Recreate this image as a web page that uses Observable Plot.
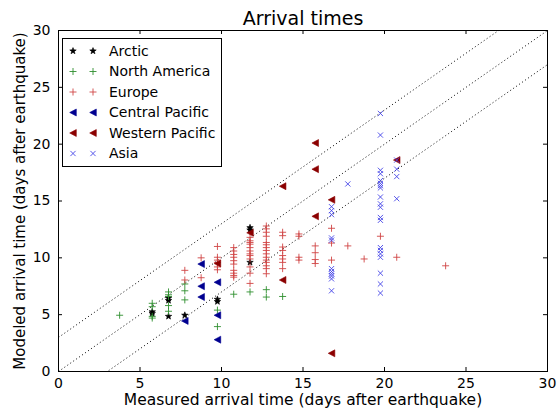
<!DOCTYPE html>
<html><head><meta charset="utf-8">
<script src="https://cdn.jsdelivr.net/npm/d3@7"></script>
<script src="https://cdn.jsdelivr.net/npm/@observablehq/plot@0.6"></script>
<style>body{margin:0;background:#fff;} #chart{width:560px;height:412px;}</style>
</head><body><div id="chart"></div>
<script>
const title = "Arrival times";
const xLabel = "Measured arrival time (days after earthquake)";
const yLabel = "Modeled arrival time (days after earthquake)";
const xTicks = [0, 5, 10, 15, 20, 25, 30];
const yTicks = [0, 5, 10, 15, 20, 25, 30];
const seriesNames = ["Arctic", "North America", "Europe", "Central Pacific", "Western Pacific", "Asia"];
const diagonalOffsets = [3, 0, -3];

const arcticX = [5.75, 5.75, 6.75, 6.75, 6.75, 7.75, 9.75, 9.75, 11.75, 11.75, 11.75];
const arcticY = [5.1, 5.25, 6.25, 6.45, 4.85, 4.95, 6.35, 6.15, 12.65, 12.45, 9.6];

const northAmericaX = [3.75, 5.75, 5.75, 5.75, 5.75, 6.75, 6.75, 6.75, 6.75, 6.75, 7.75, 7.75, 7.75, 9.75, 9.75, 10.75, 11.75, 12.75, 12.75, 13.75];
const northAmericaY = [4.95, 6.0, 5.7, 4.85, 4.7, 7.0, 6.75, 6.6, 5.8, 5.3, 7.7, 7.1, 6.3, 5.4, 3.95, 6.8, 7.0, 7.2, 6.55, 6.6];

const europeX = [7.75, 7.75,
  8.75, 8.75,
  9.75, 9.75, 9.75, 9.75, 9.75, 9.75,
  10.75, 10.75, 10.75, 10.75, 10.75, 10.75, 10.75, 10.75, 10.75, 10.75,
  11.75, 11.75, 11.75, 11.75, 11.75, 11.75, 11.75, 11.75, 11.75, 11.75, 11.75, 11.75,
  12.75, 12.75, 12.75, 12.75, 12.75, 12.75, 12.75, 12.75, 12.75, 12.75, 12.75, 12.75, 12.75, 12.75, 12.75,
  13.75, 13.75, 13.75, 13.75, 13.75, 13.75, 13.75, 13.75,
  14.75, 14.75, 14.75, 14.75,
  15.75, 15.75, 15.75, 15.75,
  16.75, 16.75, 16.75,
  17.75, 18.75, 19.75, 20.75, 23.75];
const europeY = [8.9, 8.05,
  10.0, 8.25,
  11.0, 10.05, 9.8, 9.6, 9.2, 8.95,
  10.9, 10.6, 10.3, 10.05, 9.75, 9.45, 8.9, 8.65, 8.45, 8.3,
  11.8, 11.5, 11.35, 11.2, 10.9, 10.6, 10.35, 10.2, 9.9, 9.2, 8.65, 7.75,
  12.8, 12.55, 12.25, 11.9, 11.35, 11.15, 10.9, 10.65, 10.35, 10.05, 9.8, 9.6, 9.3, 9.05, 8.6,
  12.25, 11.95, 10.95, 10.65, 10.2, 9.9, 9.6, 9.05,
  12.1, 11.9, 10.05, 9.8,
  11.05, 10.45, 9.85, 9.5,
  12.6, 11.3, 9.8,
  11.05, 9.9, 11.9, 10.05, 9.3];

const centralPacificX = [7.75, 8.75, 8.75, 8.75, 9.75, 9.75, 9.75];
const centralPacificY = [4.45, 9.45, 7.5, 6.55, 7.85, 4.95, 2.8];

const westernPacificX = [9.75, 11.75, 13.75, 13.75, 15.75, 15.75, 15.75, 16.75, 16.75, 20.75];
const westernPacificY = [9.5, 12.2, 16.3, 8.05, 20.1, 17.8, 13.65, 15.1, 1.6, 18.6];

const asiaX = [16.75, 16.75, 16.75, 16.75, 16.75, 16.75, 16.75, 16.75, 16.75, 16.75, 16.75,
  17.75,
  19.75, 19.75, 19.75, 19.75, 19.75, 19.75, 19.75, 19.75, 19.75, 19.75, 19.75, 19.75, 19.75, 19.75, 19.75, 19.75, 19.75, 19.75, 19.75, 19.75,
  20.75, 20.75, 20.75, 20.75];
const asiaY = [14.5, 14.15, 13.8, 11.75, 11.55, 9.05, 8.8, 8.6, 8.4, 8.15, 7.1,
  16.5,
  22.7, 20.8, 17.7, 17.4, 16.8, 16.55, 16.35, 16.15, 15.35, 14.75, 14.45, 13.55, 13.3, 10.9, 10.65, 10.35, 10.05, 8.65, 7.7, 6.9,
  18.6, 17.8, 17.15, 15.2];

// marker shapes (pixel geometry)
const symStar = {draw(ctx) {
  const R = 3.4, r = 1.4;
  for (let i = 0; i < 10; i++) {
    const a = -Math.PI / 2 + i * Math.PI / 5, rr = i % 2 ? r : R;
    const px = rr * Math.cos(a), py = rr * Math.sin(a);
    if (i) ctx.lineTo(px, py); else ctx.moveTo(px, py);
  }
  ctx.closePath();
}};
const symPlus = {draw(ctx) { const s = 3.5; ctx.moveTo(-s, 0); ctx.lineTo(s, 0); ctx.moveTo(0, -s); ctx.lineTo(0, s); }};
const symTimes = {draw(ctx) { const s = 2.6; ctx.moveTo(-s, -s); ctx.lineTo(s, s); ctx.moveTo(-s, s); ctx.lineTo(s, -s); }};
const symLeft = {draw(ctx) { ctx.moveTo(-3.3, 0); ctx.lineTo(3.3, -3.5); ctx.lineTo(3.3, 3.5); ctx.closePath(); }};

const series = [
  {name: seriesNames[0], xs: arcticX, ys: arcticY, symbol: symStar, color: "#000000", filled: true},
  {name: seriesNames[1], xs: northAmericaX, ys: northAmericaY, symbol: symPlus, color: "#2f8f2f", filled: false},
  {name: seriesNames[2], xs: europeX, ys: europeY, symbol: symPlus, color: "#d04545", filled: false},
  {name: seriesNames[3], xs: centralPacificX, ys: centralPacificY, symbol: symLeft, color: "#000090", filled: true},
  {name: seriesNames[4], xs: westernPacificX, ys: westernPacificY, symbol: symLeft, color: "#8b0000", filled: true},
  {name: seriesNames[5], xs: asiaX, ys: asiaY, symbol: symTimes, color: "#4545e8", filled: false}
];

const dotMarks = series.map(s => Plot.dot(s.xs.map((x, i) => ({x, y: s.ys[i]})), {
  x: "x", y: "y", r: 3, symbol: s.symbol,
  fill: s.filled ? s.color : "none", stroke: s.color, strokeWidth: s.filled ? 0.6 : 0.9
}));

const plot = Plot.plot({
  width: 560, height: 412,
  marginLeft: 58, marginRight: 13, marginTop: 30, marginBottom: 41,
  style: {fontFamily: "DejaVu Sans", fontSize: "14px", background: "white", color: "black", overflow: "visible"},
  x: {domain: [0, 30]},
  y: {domain: [0, 30]},
  marks: [
    Plot.link(diagonalOffsets, {x1: 0, y1: d => d, x2: 30, y2: d => 30 + d, stroke: "black", strokeWidth: 1, strokeDasharray: "1,2.6", clip: true}),
    ...dotMarks,
    Plot.frame({stroke: "black", strokeWidth: 1}),
    Plot.tickX(xTicks, {x: d => d, insetTop: 337, stroke: "black"}),
    Plot.tickX(xTicks, {x: d => d, insetBottom: 337, stroke: "black"}),
    Plot.tickY(yTicks, {y: d => d, insetRight: 485, stroke: "black"}),
    Plot.tickY(yTicks, {y: d => d, insetLeft: 485, stroke: "black"}),
    Plot.axisX({ticks: xTicks, tickSize: 0, tickPadding: 7, label: null, fontSize: 14}),
    Plot.axisY({ticks: yTicks, tickSize: 0, tickPadding: 8, label: null, fontSize: 14}),
    Plot.text([title], {text: d => d, frameAnchor: "top", lineAnchor: "middle", dy: -12, fontSize: 19}),
    Plot.text([xLabel], {text: d => d, frameAnchor: "bottom", lineAnchor: "middle", textAnchor: "middle", dy: 29, fontSize: 15.5}),
    Plot.text([yLabel], {text: d => d, frameAnchor: "left", lineAnchor: "middle", textAnchor: "middle", dx: -38, rotate: -90, fontSize: 15})
  ]
});

// legend box (upper left inside the axes)
const svg = d3.select(plot);
const lg = svg.append("g").attr("font-family", "DejaVu Sans").attr("font-size", 14).attr("text-anchor", "start");
lg.append("rect").attr("x", 62.5).attr("y", 38.5).attr("width", 159).attr("height", 128)
  .attr("fill", "white").attr("stroke", "black").attr("stroke-width", 1);
series.forEach((s, i) => {
  const y = 51 + i * 20.5;
  [73, 93].forEach(x => {
    lg.append("path").attr("transform", `translate(${x},${y})`)
      .attr("d", d3.symbol(s.symbol)())
      .attr("fill", s.filled ? s.color : "none").attr("stroke", s.color)
      .attr("stroke-width", s.filled ? 0.6 : 0.9);
  });
  lg.append("text").attr("x", 109).attr("y", y).attr("dy", "0.35em").attr("fill", "black")
    .attr("text-anchor", "start").text(s.name);
});

document.getElementById("chart").appendChild(plot);
</script>
</body></html>
